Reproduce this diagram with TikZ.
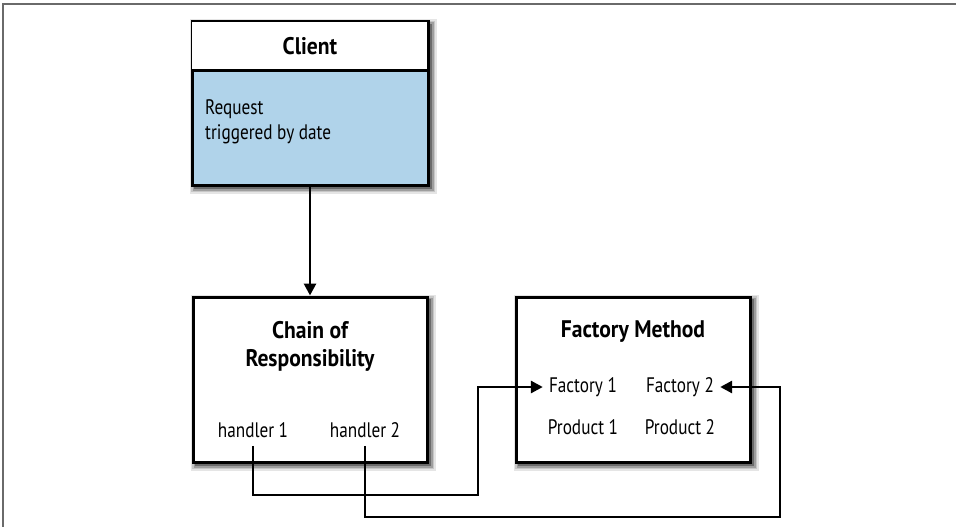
\documentclass[tikz,border=0pt]{standalone}
\usepackage{fontspec}
\setmainfont{PT Sans}[FakeStretch=0.82, BoldFeatures={FakeStretch=0.9}]
\usetikzlibrary{arrows.meta}
\definecolor{clientblue}{HTML}{B0D3EA}
\definecolor{framegray}{HTML}{6A6A6A}
\newcommand\myshadow[4]{%
  \filldraw[black!10, line width=11pt] (#1+3,#2+3) rectangle (#3+3,#4+3);
  \filldraw[black!22, line width=8pt] (#1+3,#2+3) rectangle (#3+3,#4+3);
  \filldraw[black!38, line width=5pt] (#1+3,#2+3) rectangle (#3+3,#4+3);
  \filldraw[black!58, line width=2pt] (#1+3,#2+3) rectangle (#3+3,#4+3);}
\begin{document}
\begin{tikzpicture}[x=1pt,y=-1pt,
  box/.style={draw=black, line width=3pt, rectangle, inner sep=0pt},
  lbl/.style={font=\fontsize{21}{25}\selectfont, inner sep=0pt},
  ttl/.style={font=\fontsize{24}{28}\selectfont\bfseries, align=center, inner sep=0pt},
  conn/.style={line width=2.8pt, -{Triangle[length=12pt,width=12pt]}}]
\useasboundingbox (0,0) rectangle (956,527);
\draw[framegray, line width=2pt] (2,4.5) -- (956,4.5);
\draw[framegray, line width=2pt] (3,4) -- (3,527);

% shadows
\myshadow{192}{22}{428}{185}
\myshadow{193}{297}{427}{462}
\myshadow{516}{297}{750}{462}

% Client box
\node[box, fill=clientblue, minimum width=236pt, minimum height=163pt] (client) at (310,103.5) {};
\fill[white] ([xshift=1.5pt,yshift=-1.5pt]client.north west) rectangle (426.5,71);
\draw[line width=3pt] (192,71) -- (428,71);
\node[ttl] (clientt) at (310,46) {Client};
\node[lbl, anchor=west, align=left] (req) at (205,122) {Request\\triggered by date};

% Chain of Responsibility
\node[box, fill=white, minimum width=234pt, minimum height=165pt] (cor) at (310,379.5) {};
\node[ttl] (cort) at (310,346) {Chain of\\Responsibility};
\node[lbl] (h1) at (253,430) {handler 1};
\node[lbl] (h2) at (365,430) {handler 2};

% Factory Method
\node[box, fill=white, minimum width=234pt, minimum height=165pt] (fm) at (633,379.5) {};
\node[ttl] (fmt) at (633,332) {Factory Method};
\node[lbl] (f1) at (583,387) {Factory 1};
\node[lbl] (f2) at (680,387) {Factory 2};
\node[lbl] (p1) at (583,427) {Product 1};
\node[lbl] (p2) at (680,427) {Product 2};

% connectors
\draw[conn] (client.south) -- (cor.north);
\coordinate (c1) at (478,495);
\coordinate (c2) at (780,517);
\draw[conn] ([yshift=-8pt]h1.south) |- (c1) |- ([xshift=-6pt]f1.west);
\draw[conn] ([yshift=-8pt]h2.south) |- (c2) |- ([xshift=6pt]f2.east);
\end{tikzpicture}
\end{document}
